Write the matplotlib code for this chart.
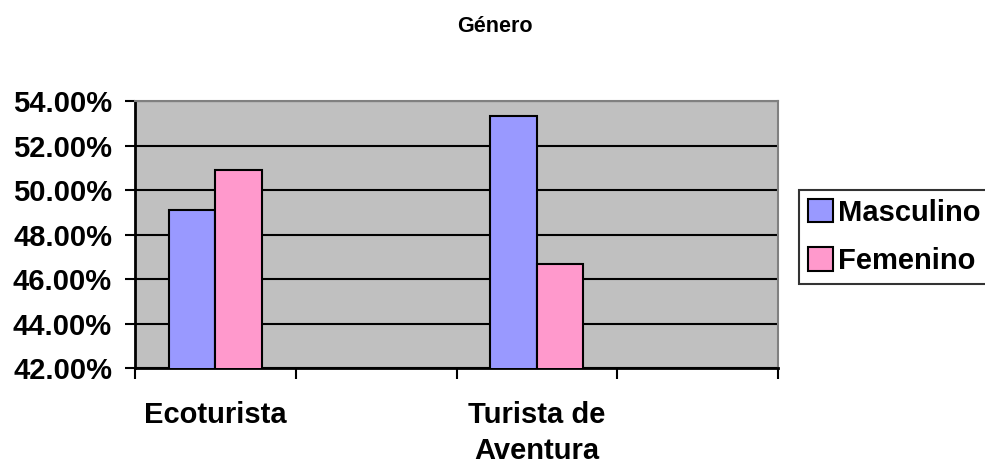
import numpy as np
import matplotlib.pyplot as plt
from matplotlib.ticker import FuncFormatter, FixedLocator

plt.rcParams['font.family'] = ['Liberation Sans', 'DejaVu Sans']
plt.rcParams['font.weight'] = 'bold'

# Data
categories = ["Ecoturista", "", "Turista de\nAventura", ""]
masculino = [49.1, np.nan, 53.33, np.nan]
femenino = [50.9, np.nan, 46.67, np.nan]
series_names = ["Masculino", "Femenino"]
y_ticks = [42, 44, 46, 48, 50, 52, 54]

fig = plt.figure(figsize=(9.85, 4.63), dpi=100)
ax = fig.add_axes([135 / 985, 1 - 368 / 463, (778 - 135) / 985, (368 - 101) / 463])
ax.set_facecolor("#C0C0C0")

x = np.arange(len(categories))
w = 0.29
ax.bar(x - w / 2, masculino, w, color="#9999FF", edgecolor="black", linewidth=1.5,
       label=series_names[0], zorder=3)
ax.bar(x + w / 2, femenino, w, color="#FF99CC", edgecolor="black", linewidth=1.5,
       label=series_names[1], zorder=3)

ax.set_ylim(42, 54)
ax.set_xlim(-0.5, len(categories) - 0.5)
ax.set_yticks(y_ticks)
ax.yaxis.set_major_formatter(FuncFormatter(lambda v, p: "%.2f%%" % v))
ax.tick_params(axis="y", labelsize=21, length=7.5, width=1.5, direction="out", pad=9)
for lbl in ax.get_yticklabels():
    lbl.set_fontweight("bold")

ax.grid(axis="y", color="black", linewidth=1.5, zorder=1)

ax.set_xticks(x)
ax.set_xticklabels(categories, fontsize=21, fontweight="bold", linespacing=1.36)
ax.tick_params(axis="x", which="major", length=0, pad=24)
ax.xaxis.set_minor_locator(FixedLocator(np.arange(-0.5, len(categories), 1.0)))
ax.tick_params(axis="x", which="minor", length=8, width=1.5, direction="out")

for side in ["left", "bottom"]:
    ax.spines[side].set_color("black")
    ax.spines[side].set_linewidth(2)
for side in ["top", "right"]:
    ax.spines[side].set_color("#808080")
    ax.spines[side].set_linewidth(1.5)

fig.text(495 / 985, 1 - 27 / 463, "Género", ha="center", va="center", fontsize=15.5, fontweight="bold")

leg = ax.legend(loc="upper left", bbox_to_anchor=(799 / 985, 1 - 190 / 463),
                bbox_transform=fig.transFigure, fontsize=21, frameon=True, fancybox=False,
                edgecolor="black", handlelength=0.85, handleheight=0.85, handletextpad=0.2,
                borderpad=0.3, labelspacing=0.7, borderaxespad=0)
leg.get_frame().set_linewidth(1.5)
for t in leg.get_texts():
    t.set_fontweight("bold")

fig.savefig("out.png", dpi=100)
